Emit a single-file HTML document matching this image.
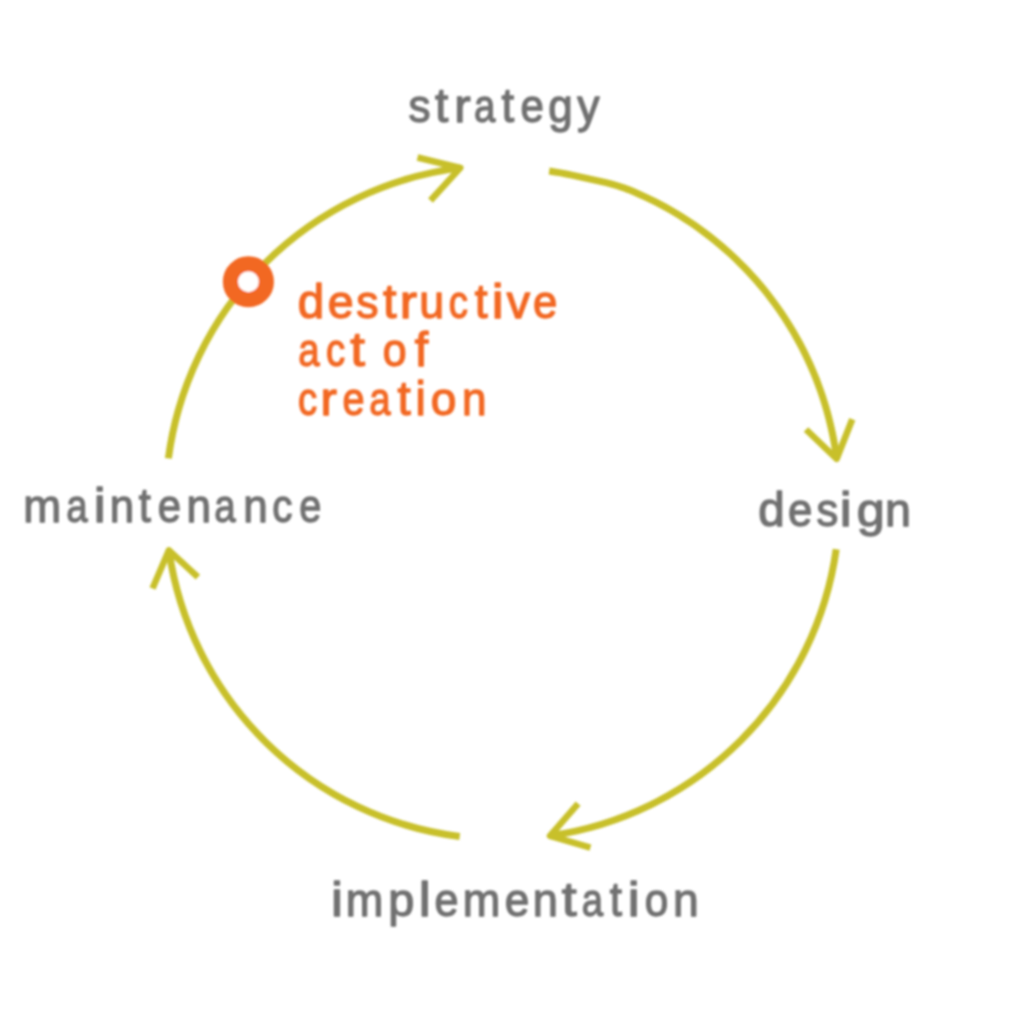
<!DOCTYPE html>
<html><head><meta charset="utf-8"><style>
html,body{margin:0;padding:0;background:#fff;width:1024px;height:1024px;overflow:hidden}
svg{display:block}
text{font-family:"Liberation Sans",sans-serif;font-size:48px;stroke-width:1.4px;stroke-linejoin:round}
</style></head><body>
<svg width="1024" height="1024" viewBox="0 0 1024 1024">
<defs><filter id="b" x="-5%" y="-5%" width="110%" height="110%"><feGaussianBlur stdDeviation="0.8"/></filter></defs>
<rect width="1024" height="1024" fill="#fff"/>
<g filter="url(#b)">
<g fill="none" stroke="#c8c02a" stroke-width="7" stroke-linecap="butt" stroke-linejoin="round">
<path d="M549.16 171.07 L554.89 171.93 L560.62 172.89 L566.32 173.95 L572.01 175.10 L577.68 176.36 L583.34 177.63 L589.02 178.85 L594.72 180.08 L600.41 181.34 L606.10 182.67 L611.76 184.13 L617.38 185.75 L622.94 187.56 L628.42 189.61 L633.83 191.84 L639.20 194.17 L644.52 196.59 L649.80 199.10 L655.04 201.70 L660.23 204.39 L665.38 207.18 L670.47 210.05 L675.52 213.01 L680.51 216.05 L685.45 219.18 L690.34 222.40 L695.16 225.70 L699.93 229.09 L704.64 232.56 L709.29 236.11 L713.88 239.73 L718.40 243.44 L722.86 247.23 L727.25 251.09 L731.58 255.03 L735.83 259.04 L740.02 263.13 L744.13 267.29 L748.17 271.51 L752.14 275.81 L756.03 280.18 L759.84 284.61 L763.58 289.11 L767.24 293.67 L770.82 298.30 L774.31 302.99 L777.73 307.73 L781.06 312.54 L784.31 317.40 L787.48 322.32 L790.56 327.29 L793.55 332.32 L796.45 337.40 L799.27 342.52 L802.00 347.70 L804.63 352.92 L807.18 358.18 L809.63 363.49 L811.99 368.84 L814.26 374.24 L816.43 379.67 L818.51 385.13 L820.50 390.63 L822.39 396.17 L824.18 401.74 L825.87 407.34 L827.47 412.96 L828.97 418.61 L830.37 424.29 L831.67 430.00 L832.88 435.72 L833.98 441.46 L834.99 447.22 L835.89 453.00 L836.69 458.80"/>
<path d="M836.2 549.2 A337 337 0 0 1 550.0 835.8"/>
<path d="M459.7 836.5 A337 337 0 0 1 168.9 550.3"/>
<path d="M168.4 458.4 A337 337 0 0 1 460.3 167.9"/>
<path stroke-width="6.5" d="M806.0 429.5 L836.7 458.8 L852.3 419.3"/>
<path stroke-width="6.5" d="M578.1 803.6 L550.0 835.8 L590.4 847.6"/>
<path stroke-width="6.5" d="M152.5 588.5 L168.9 550.3 L197.9 577.2"/>
<path stroke-width="6.5" d="M417.5 157.5 L460.3 167.9 L430.5 200.5"/>
</g>
<circle cx="248.4" cy="281.7" r="18.0" fill="#fff" stroke="#f26824" stroke-width="15.1"/>
<g fill="#717171" stroke="#717171"><text transform="translate(408.47 121.7) scale(0.920 0.955)">s</text><text transform="translate(435.00 121.7) scale(0.996 1.0)">t</text><text transform="translate(454.32 121.7) scale(1.025 0.955)">r</text><text transform="translate(474.05 121.7) scale(0.800 0.955)">a</text><text transform="translate(501.54 121.7) scale(0.947 1.0)">t</text><text transform="translate(520.40 121.7) scale(0.876 0.955)">e</text><text transform="translate(548.22 121.7) scale(0.916 0.955)">g</text><text transform="translate(577.22 121.7) scale(0.928 0.955)">y</text></g>
<g fill="#f26824" stroke="#f26824"><text transform="translate(297.87 318.2) scale(0.991 1.0)">d</text><text transform="translate(327.81 318.2) scale(0.969 0.955)">e</text><text transform="translate(356.25 318.2) scale(0.930 0.955)">s</text><text transform="translate(382.89 318.2) scale(1.012 1.0)">t</text><text transform="translate(399.83 318.2) scale(1.083 0.955)">r</text><text transform="translate(419.25 318.2) scale(0.932 0.955)">u</text><text transform="translate(448.80 318.2) scale(0.800 0.955)">c</text><text transform="translate(474.73 318.2) scale(0.963 1.0)">t</text><text transform="translate(491.83 318.2) scale(1.120 1.0)">i</text><text transform="translate(506.71 318.2) scale(0.970 0.955)">v</text><text transform="translate(533.03 318.2) scale(0.911 0.955)">e</text></g>
<g fill="#f26824" stroke="#f26824"><text transform="translate(298.20 365.7) scale(0.800 0.955)">a</text><text transform="translate(326.10 365.7) scale(0.800 0.955)">c</text><text transform="translate(350.32 365.7) scale(1.102 1.0)">t</text><text transform="translate(382.87 365.7) scale(0.892 0.955)">o</text><text transform="translate(414.70 365.7) scale(1.004 1.0)">f</text></g>
<g fill="#f26824" stroke="#f26824"><text transform="translate(298.05 414.6) scale(0.800 0.955)">c</text><text transform="translate(320.42 414.6) scale(1.025 0.955)">r</text><text transform="translate(342.60 414.6) scale(0.827 0.955)">e</text><text transform="translate(369.30 414.6) scale(0.800 0.955)">a</text><text transform="translate(397.61 414.6) scale(0.988 1.0)">t</text><text transform="translate(415.61 414.6) scale(0.965 1.0)">i</text><text transform="translate(430.83 414.6) scale(0.958 0.955)">o</text><text transform="translate(461.96 414.6) scale(0.919 0.955)">n</text></g>
<g fill="#717171" stroke="#717171"><text transform="translate(23.26 522.1) scale(0.949 0.955)">m</text><text transform="translate(66.15 522.1) scale(0.800 0.955)">a</text><text transform="translate(93.83 522.1) scale(1.120 1.0)">i</text><text transform="translate(109.78 522.1) scale(0.914 0.955)">n</text><text transform="translate(138.87 522.1) scale(0.906 1.0)">t</text><text transform="translate(157.71 522.1) scale(0.871 0.955)">e</text><text transform="translate(186.46 522.1) scale(0.919 0.955)">n</text><text transform="translate(214.25 522.1) scale(0.800 0.955)">a</text><text transform="translate(243.16 522.1) scale(0.919 0.955)">n</text><text transform="translate(272.36 522.1) scale(0.843 0.955)">c</text><text transform="translate(299.30 522.1) scale(0.827 0.955)">e</text></g>
<g fill="#717171" stroke="#717171"><text transform="translate(758.17 526.2) scale(0.991 1.0)">d</text><text transform="translate(788.03 526.2) scale(0.911 0.955)">e</text><text transform="translate(816.59 526.2) scale(0.906 0.955)">s</text><text transform="translate(839.78 526.2) scale(1.120 1.0)">i</text><text transform="translate(856.86 526.2) scale(1.047 0.955)">g</text><text transform="translate(884.89 526.2) scale(0.973 0.955)">n</text></g>
<g fill="#717171" stroke="#717171"><text transform="translate(331.08 915.5) scale(1.120 1.0)">i</text><text transform="translate(345.69 915.5) scale(0.940 0.955)">m</text><text transform="translate(388.33 915.5) scale(0.975 0.955)">p</text><text transform="translate(418.63 915.5) scale(1.120 1.0)">l</text><text transform="translate(434.45 915.5) scale(0.898 0.955)">e</text><text transform="translate(462.79 915.5) scale(0.940 0.955)">m</text><text transform="translate(504.81 915.5) scale(0.920 0.955)">e</text><text transform="translate(532.78 915.5) scale(0.943 0.955)">n</text><text transform="translate(561.85 915.5) scale(1.120 1.0)">t</text><text transform="translate(581.75 915.5) scale(0.800 0.955)">a</text><text transform="translate(609.86 915.5) scale(0.914 1.0)">t</text><text transform="translate(627.73 915.5) scale(1.120 1.0)">i</text><text transform="translate(644.79 915.5) scale(0.879 0.955)">o</text><text transform="translate(672.92 915.5) scale(0.963 0.955)">n</text></g>
</g>
</svg>
</body></html>
